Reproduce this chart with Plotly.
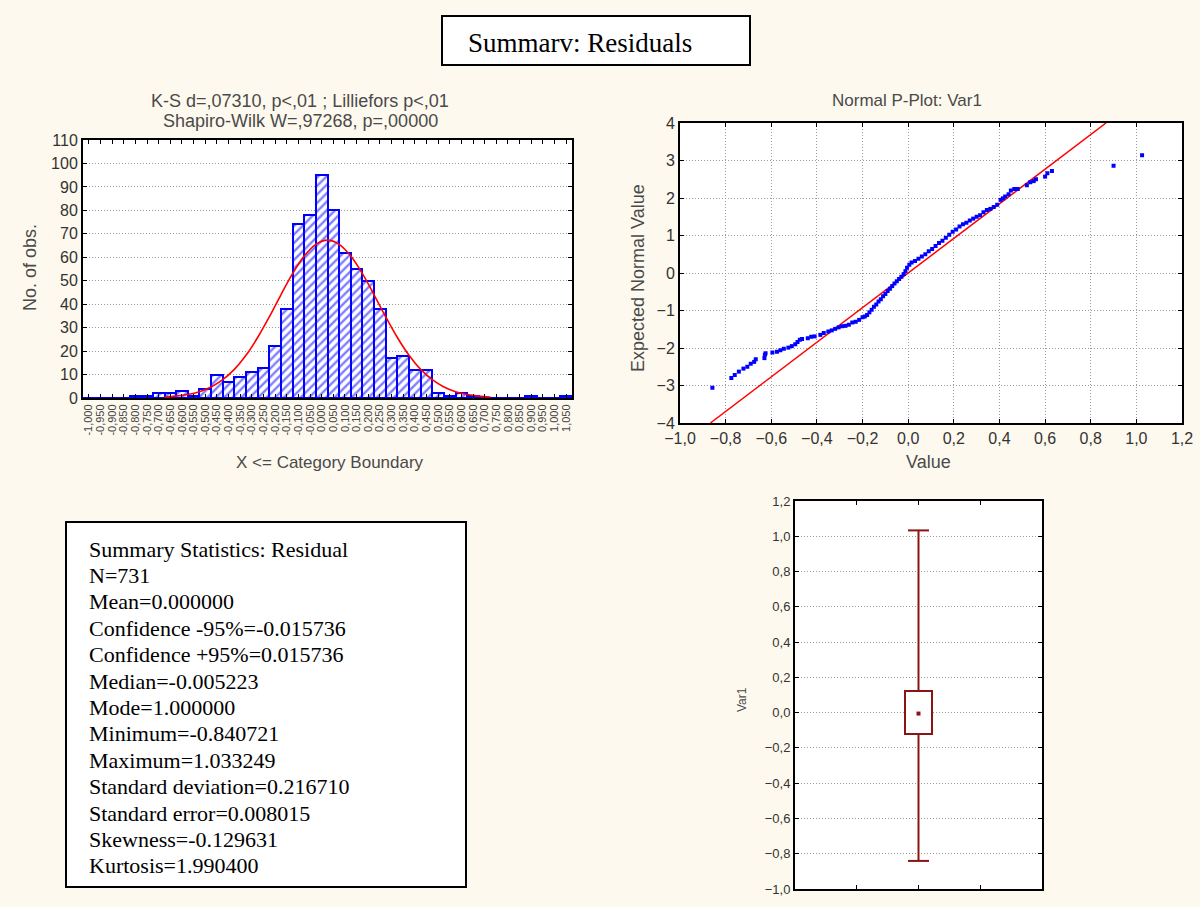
import plotly.graph_objects as go

# ---- histogram of residuals (bin width 0,05, upper boundaries as labels) ----
bin_centers = [-1.025, -0.975, -0.925, -0.875, -0.825, -0.775, -0.725, -0.675, -0.625, -0.575,
               -0.525, -0.475, -0.425, -0.375, -0.325, -0.275, -0.225, -0.175, -0.125, -0.075,
               -0.025, 0.025, 0.075, 0.125, 0.175, 0.225, 0.275, 0.325, 0.375, 0.425,
               0.475, 0.525, 0.575, 0.625, 0.675, 0.725, 0.775, 0.825, 0.875, 0.925,
               0.975, 1.025]
bin_labels = ["-1,000", "-0,950", "-0,900", "-0,850", "-0,800", "-0,750", "-0,700", "-0,650",
              "-0,600", "-0,550", "-0,500", "-0,450", "-0,400", "-0,350", "-0,300", "-0,250",
              "-0,200", "-0,150", "-0,100", "-0,050", "0,000", "0,050", "0,100", "0,150",
              "0,200", "0,250", "0,300", "0,350", "0,400", "0,450", "0,500", "0,550",
              "0,600", "0,650", "0,700", "0,750", "0,800", "0,850", "0,900", "0,950",
              "1,000", "1,050"]
bin_counts = [0, 0, 0, 0, 1, 1, 2, 2, 3, 1,
              4, 10, 7, 9, 11, 13, 22, 38, 74, 78,
              95, 80, 62, 55, 50, 38, 17, 18, 12, 12,
              2, 1, 2, 1, 0, 0, 0, 0, 1, 0,
              0, 1]

# expected normal curve
curve_x = [-0.70, -0.65, -0.60, -0.55, -0.50, -0.45, -0.40, -0.35, -0.30, -0.25, -0.20, -0.15,
           -0.10, -0.05, 0.00, 0.05, 0.10, 0.15, 0.20, 0.25, 0.30, 0.35, 0.40, 0.45, 0.50,
           0.55, 0.60, 0.65, 0.70]
curve_y = [0.4, 0.8, 1.5, 2.7, 4.7, 7.8, 12.2, 18.2, 25.8, 34.6, 44.0, 53.0,
           60.5, 65.5, 67.3, 65.5, 60.5, 53.0, 44.0, 34.6, 25.8, 18.2, 12.2, 7.8, 4.7,
           2.7, 1.5, 0.8, 0.4]

# ---- normal probability plot ----
pp_value = [-0.858, -0.775, -0.760, -0.742, -0.722, -0.705, -0.690, -0.675, -0.668, -0.630,
            -0.628, -0.625, -0.595, -0.575, -0.560, -0.545, -0.525, -0.510, -0.495, -0.485,
            -0.475, -0.465, -0.440, -0.425, -0.410, -0.385, -0.370, -0.350, -0.335, -0.320,
            -0.305, -0.290, -0.275, -0.260, -0.245, -0.230, -0.215, -0.200, -0.190, -0.180,
            -0.170, -0.160, -0.150, -0.140, -0.130, -0.120, -0.110, -0.100, -0.090, -0.080,
            -0.070, -0.060, -0.050, -0.040, -0.030, -0.020, -0.012, -0.005, 0.005, 0.015,
            0.030, 0.045, 0.060, 0.075, 0.090, 0.105, 0.120, 0.135, 0.150, 0.165,
            0.180, 0.195, 0.210, 0.225, 0.240, 0.255, 0.270, 0.285, 0.300, 0.315,
            0.330, 0.345, 0.360, 0.375, 0.390, 0.405, 0.415, 0.425, 0.440, 0.450,
            0.465, 0.480, 0.520, 0.535, 0.550, 0.560, 0.600, 0.610, 0.630, 0.900,
            1.025]
pp_expected = [-3.06, -2.80, -2.72, -2.63, -2.55, -2.50, -2.42, -2.37, -2.30, -2.27,
               -2.18, -2.14, -2.12, -2.10, -2.06, -2.02, -1.99, -1.95, -1.90, -1.84,
               -1.78, -1.76, -1.74, -1.70, -1.69, -1.65, -1.60, -1.56, -1.53, -1.49,
               -1.45, -1.42, -1.41, -1.38, -1.32, -1.30, -1.25, -1.18, -1.16, -1.12,
               -1.05, -0.98, -0.90, -0.84, -0.76, -0.70, -0.62, -0.56, -0.48, -0.42,
               -0.35, -0.28, -0.22, -0.16, -0.10, -0.03, 0.05, 0.14, 0.22, 0.28,
               0.32, 0.38, 0.44, 0.50, 0.58, 0.64, 0.72, 0.80, 0.86, 0.94,
               1.02, 1.10, 1.16, 1.24, 1.30, 1.34, 1.40, 1.45, 1.50, 1.54,
               1.62, 1.68, 1.71, 1.76, 1.82, 1.95, 1.99, 2.04, 2.10, 2.20,
               2.24, 2.24, 2.34, 2.42, 2.45, 2.50, 2.57, 2.66, 2.72, 2.86,
               3.14]
ref_line_x = [-0.867, 0.867]
ref_line_y = [-4, 4]

# ---- box plot: median, box 25%-75%, whiskers min-max ----
box_pos = 2
box_min = -0.840721
box_q1 = -0.12
box_median = -0.005223
box_q3 = 0.125
box_max = 1.033249

summary_lines = ["Summary Statistics: Residual", "N=731", "Mean=0.000000",
                 "Confidence -95%=-0.015736", "Confidence +95%=0.015736",
                 "Median=-0.005223", "Mode=1.000000", "Minimum=-0.840721",
                 "Maximum=1.033249", "Standard deviation=0.216710",
                 "Standard error=0.008015", "Skewness=-0.129631", "Kurtosis=1.990400"]

W, H = 1200, 907
BG = "#FEF9EE"
SANS = "Liberation Sans, Arial, sans-serif"
SERIF = "Liberation Serif, Times New Roman, serif"
TXT = "#4a4a4a"
BOXRED = "#8B1414"


def px(x):
    return x / W


def py(y):
    return 1 - y / H


fig = go.Figure()

fig.add_trace(go.Bar(x=bin_centers, y=bin_counts, width=0.05,
                     marker=dict(color="white", line=dict(color="#0000FF", width=2),
                                 pattern=dict(shape="/", fgcolor="#0000FF", bgcolor="white",
                                              size=6, solidity=0.4)),
                     xaxis="x", yaxis="y", showlegend=False))
fig.add_trace(go.Scatter(x=curve_x, y=curve_y, mode="lines", line=dict(color="#FF0000", width=1.6, shape="spline"),
                         xaxis="x", yaxis="y", showlegend=False))

fig.add_trace(go.Scatter(x=ref_line_x, y=ref_line_y, mode="lines", line=dict(color="#FF0000", width=1.5),
                         xaxis="x2", yaxis="y2", showlegend=False))
fig.add_trace(go.Scatter(x=pp_value, y=pp_expected, mode="markers",
                         marker=dict(color="#0000FF", size=4, symbol="square"),
                         xaxis="x2", yaxis="y2", showlegend=False))

# box body
fig.add_trace(go.Bar(x=[box_pos], base=[box_q1], y=[box_q3 - box_q1], width=0.44,
                     marker=dict(color="white", line=dict(color=BOXRED, width=2)),
                     xaxis="x3", yaxis="y3", showlegend=False))
# whiskers
fig.add_trace(go.Scatter(x=[box_pos, box_pos, None, box_pos, box_pos],
                         y=[box_min, box_q1, None, box_q3, box_max], mode="lines",
                         line=dict(color=BOXRED, width=2), xaxis="x3", yaxis="y3", showlegend=False))
fig.add_trace(go.Scatter(x=[box_pos, box_pos], y=[box_min, box_max], mode="markers",
                         marker=dict(symbol="line-ew", size=15, line=dict(color=BOXRED, width=2)),
                         xaxis="x3", yaxis="y3", showlegend=False))
fig.add_trace(go.Scatter(x=[box_pos], y=[box_median], mode="markers",
                         marker=dict(symbol="square", size=4, color=BOXRED),
                         xaxis="x3", yaxis="y3", showlegend=False))

frame = dict(showline=True, mirror="ticks", linecolor="black", linewidth=2, ticks="inside",
             ticklen=4, tickcolor="black", zeroline=False, automargin=False)
grid = dict(showgrid=True, gridcolor="#9A9A9A", griddash="1px,2px", gridwidth=1)
tick_font = dict(family=SANS, size=16, color="#333333")

fig.update_layout(
    width=W, height=H, margin=dict(l=0, r=0, t=0, b=0, autoexpand=False),
    paper_bgcolor=BG, plot_bgcolor="white", separators=",.",
    bargap=0,
    xaxis=dict(domain=[px(83), px(572)], range=[-1.05, 1.05], tickvals=bin_centers, ticktext=bin_labels,
               tickangle=-90, showgrid=False, anchor="y", **frame,
               tickfont=dict(family=SANS, size=11, color="#444444")),
    yaxis=dict(domain=[py(398), py(140)], range=[0, 110], dtick=10, anchor="x", **frame, **grid,
               tickfont=tick_font),
    xaxis2=dict(domain=[px(680), px(1182)], range=[-1.0, 1.2], dtick=0.2, tickformat=".1f",
                anchor="y2", **frame, **grid, tickfont=tick_font),
    yaxis2=dict(domain=[py(423), py(123)], range=[-4, 4], dtick=1, anchor="x2", **frame, **grid,
                tickfont=tick_font),
    xaxis3=dict(domain=[px(795), px(1042)], range=[0, 4], tickvals=[1, 2, 3], showticklabels=False,
                showgrid=False, anchor="y3", **frame),
    yaxis3=dict(domain=[py(889), py(501)], range=[-1.0, 1.2], dtick=0.2, tickformat=".1f",
                anchor="x3", **frame, **grid, tickfont=dict(family=SANS, size=13, color="#333333")),
)

shapes = [
    dict(type="rect", xref="paper", yref="paper", x0=px(442), x1=px(750), y0=py(65), y1=py(16),
         fillcolor="white", line=dict(color="black", width=2), layer="below"),
    dict(type="rect", xref="paper", yref="paper", x0=px(66), x1=px(466), y0=py(887), y1=py(522),
         fillcolor="white", line=dict(color="black", width=2), layer="below"),
]
fig.update_layout(shapes=shapes)

ann = [
    dict(x=px(580), y=py(43), text="Summarv: Residuals", font=dict(family=SERIF, size=27, color="black")),
    dict(x=px(300), y=py(101), text="K-S d=,07310, p<,01 ; Lilliefors p<,01", font=dict(family=SANS, size=18, color=TXT)),
    dict(x=px(300), y=py(121), text="Shapiro-Wilk W=,97268, p=,00000", font=dict(family=SANS, size=18, color=TXT)),
    dict(x=px(330), y=py(462), text="X <= Category Boundary", font=dict(family=SANS, size=17, color=TXT)),
    dict(x=px(30), y=py(268), text="No. of obs.", textangle=-90, font=dict(family=SANS, size=18, color=TXT)),
    dict(x=px(907), y=py(101), text="Normal P-Plot: Var1", font=dict(family=SANS, size=17, color=TXT)),
    dict(x=px(928), y=py(462), text="Value", font=dict(family=SANS, size=18, color=TXT)),
    dict(x=px(638), y=py(278), text="Expected Normal Value", textangle=-90, font=dict(family=SANS, size=18, color=TXT)),
    dict(x=px(742), y=py(700), text="Var1", textangle=-90, font=dict(family=SANS, size=12, color=TXT)),
]
for i, line in enumerate(summary_lines):
    ann.append(dict(x=px(87), y=py(549 + 26.4 * i), text=line, xanchor="left",
                    font=dict(family=SERIF, size=22, color="black")))
for a in ann:
    a.setdefault("xref", "paper")
    a.setdefault("yref", "paper")
    a.setdefault("xanchor", "center")
    a.setdefault("yanchor", "middle")
    a.setdefault("showarrow", False)
fig.update_layout(annotations=ann)

fig.write_html("out.html", config={"displayModeBar": False},
               post_script="document.body.style.margin='0px';document.body.style.background='" + BG + "';")
